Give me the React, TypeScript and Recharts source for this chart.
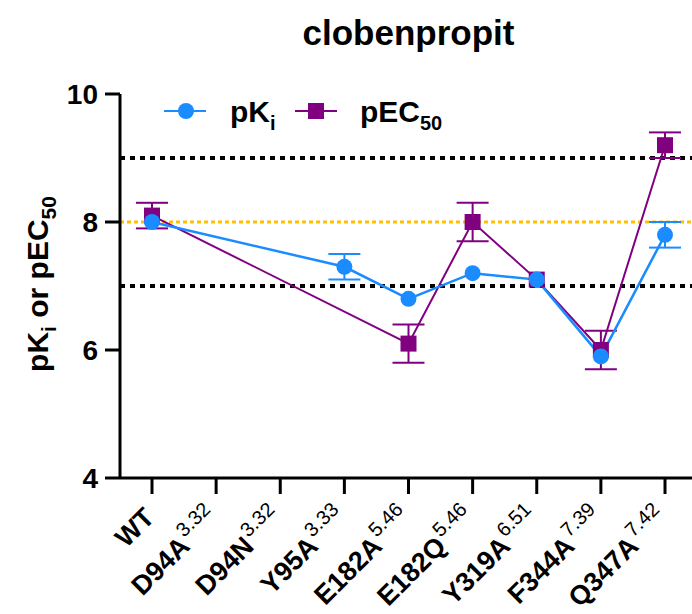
import React from 'react'
import { ErrorBar, Legend, Line, LineChart, ReferenceLine, XAxis, YAxis } from 'recharts'

const categories = ['WT', 'D94A', 'D94N', 'Y95A', 'E182A', 'E182Q', 'Y319A', 'F344A', 'Q347A']
const positions = ['', '3.32', '3.32', '3.33', '5.46', '5.46', '6.51', '7.39', '7.42']
const pKi = [8.0, null, null, 7.3, 6.8, 7.2, 7.1, 5.9, 7.8]
const pKiErr = [null, null, null, 0.2, null, null, null, null, 0.2]
const pEC50 = [8.1, null, null, null, 6.1, 8.0, 7.1, 6.0, 9.2]
const pEC50Err = [0.2, null, null, null, 0.3, 0.3, null, 0.3, 0.2]
const yTicks = [4, 6, 8, 10]

const BLUE = '#1a8cff'
const PURPLE = '#800080'
const FONT = '"Liberation Sans", Arial, sans-serif'
const PLOT_TOP = 94
const PLOT_BOTTOM = 478

const data = categories.map((name, i) => ({
    name,
    pKi: pKi[i],
    pKiErr: pKiErr[i],
    pEC50: pEC50[i],
    pEC50Err: pEC50Err[i],
}))

// rough advance of the superscript (digits and dots, Arial metrics)
const supWidth = (s: string, size: number) =>
    s ? s.split('').reduce((w, c) => w + (c === '.' ? 0.278 : 0.556) * size, 0) + 2 : 0

const XTick = ({ x, payload }: any) => {
    const sup = positions[categories.indexOf(payload.value)]
    return (
        <g transform={`translate(${x + 4},${PLOT_BOTTOM + 41}) rotate(-45)`}>
            <text x={-supWidth(sup, 20)} y={0} textAnchor='end' fontFamily={FONT} fontWeight={700} fontSize={27} fill='#000'>
                {payload.value}
            </text>
            {sup && (
                <text x={0} y={-12} textAnchor='end' fontFamily={FONT} fontSize={20} fill='#000'>
                    {sup}
                </text>
            )}
        </g>
    )
}

const SquareDot = ({ cx, cy, key }: any) => {
    if (cx == null || cy == null) return <g key={key} />
    return <rect key={key} x={cx - 8} y={cy - 8} width={16} height={16} fill={PURPLE} />
}

const LegendContent = () => (
    <svg width={320} height={44} style={{ display: 'block' }}>
        <line x1={14} y1={20} x2={56} y2={20} stroke={BLUE} strokeWidth={2} />
        <circle cx={36} cy={20} r={8} fill={BLUE} />
        <text x={80} y={31} fontFamily={FONT} fontWeight={700} fontSize={30}>
            pK<tspan fontSize={20} dy={8}>i</tspan>
        </text>
        <line x1={145} y1={20} x2={187} y2={20} stroke={PURPLE} strokeWidth={2} />
        <rect x={158} y={12} width={16} height={16} fill={PURPLE} />
        <text x={210} y={31} fontFamily={FONT} fontWeight={700} fontSize={30}>
            pEC<tspan fontSize={20} dy={8}>50</tspan>
        </text>
    </svg>
)

const YLabel = () => (
    <text transform='translate(48,284) rotate(-90)' textAnchor='middle' fontFamily={FONT} fontWeight={700} fontSize={30} fill='#000'>
        pK<tspan fontSize={21} dy={8}>i</tspan>
        <tspan dy={-8}> or pEC</tspan>
        <tspan fontSize={21} dy={8}>50</tspan>
    </text>
)

export default function App() {
    return (
        <div style={{ position: 'absolute', left: 0, top: 0, width: 692, height: 614, overflow: 'hidden', background: '#fff' }}>
            <div style={{ position: 'absolute', left: 120, width: 577, top: 13, textAlign: 'center', fontFamily: FONT, fontWeight: 700, fontSize: 35, lineHeight: '40px' }}>
                clobenpropit
            </div>
            <LineChart width={700} height={614} data={data} margin={{ top: PLOT_TOP, right: 3, left: 0, bottom: 614 - PLOT_BOTTOM - 136 }}>
                <ReferenceLine y={9} stroke='#000' strokeWidth={4} strokeDasharray='5 5' />
                <ReferenceLine y={7} stroke='#000' strokeWidth={4} strokeDasharray='5 5' />
                <ReferenceLine y={8} stroke='#ffc000' strokeWidth={3} strokeDasharray='4 3' />
                <XAxis
                    dataKey='name'
                    height={136}
                    padding={{ left: 32, right: 32 }}
                    axisLine={{ stroke: '#000', strokeWidth: 3 }}
                    tickLine={{ stroke: '#000', strokeWidth: 3 }}
                    tickSize={16}
                    interval={0}
                    tick={<XTick />}
                />
                <YAxis
                    width={120}
                    domain={[4, 10]}
                    ticks={yTicks}
                    axisLine={{ stroke: '#000', strokeWidth: 3 }}
                    tickLine={{ stroke: '#000', strokeWidth: 3 }}
                    tickSize={15}
                    tickMargin={7}
                    tick={{ fill: '#000', fontSize: 28, fontWeight: 700, fontFamily: FONT }}
                    label={<YLabel />}
                />
                <Line
                    dataKey='pEC50'
                    name='pEC50'
                    stroke={PURPLE}
                    strokeWidth={2}
                    connectNulls
                    dot={<SquareDot />}
                    activeDot={false}
                    isAnimationActive={false}
                >
                    <ErrorBar dataKey='pEC50Err' direction='y' width={16} stroke={PURPLE} strokeWidth={2} />
                </Line>
                <Line
                    dataKey='pKi'
                    name='pKi'
                    stroke={BLUE}
                    strokeWidth={2.5}
                    connectNulls
                    dot={{ r: 8, fill: BLUE, stroke: BLUE, strokeWidth: 0 }}
                    activeDot={false}
                    isAnimationActive={false}
                >
                    <ErrorBar dataKey='pKiErr' direction='y' width={16} stroke={BLUE} strokeWidth={2} />
                </Line>
                <Legend
                    layout='horizontal'
                    verticalAlign='middle'
                    align='center'
                    content={<LegendContent />}
                    wrapperStyle={{ top: 91, left: 150, width: 320 }}
                />
            </LineChart>
        </div>
    )
}
